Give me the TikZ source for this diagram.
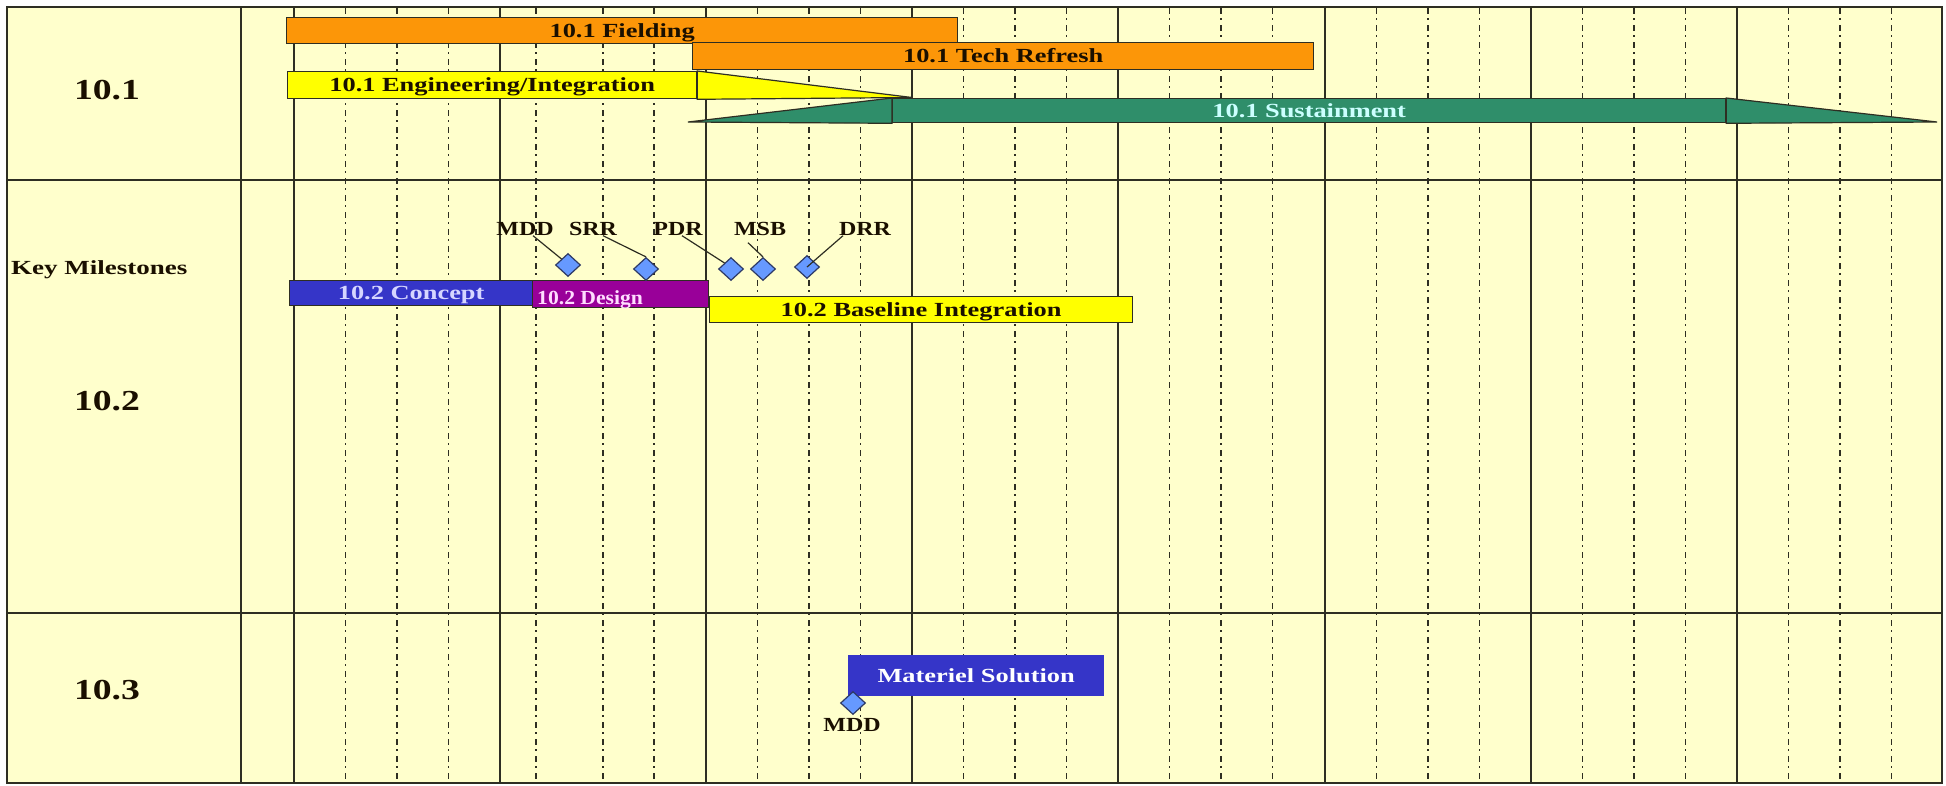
\documentclass[tikz,border=0pt]{standalone}
\usepackage{graphicx}
\usepackage{fontspec}
\setmainfont{Liberation Serif}
% horizontally widened bold serif faces used for the chart texts
\newfontfamily\barfont[FakeStretch=1.32]{Liberation Serif}
\newfontfamily\msfont[FakeStretch=1.2]{Liberation Serif}
\newfontfamily\rowfont[FakeStretch=1.3]{Liberation Serif}
\newfontfamily\keyfont[FakeStretch=1.35]{Liberation Serif}
\usetikzlibrary{shapes.geometric}

\definecolor{paper}{HTML}{FFFFCC}
\definecolor{rule}{HTML}{2E2E22}
\definecolor{barorange}{HTML}{FC9608}
\definecolor{baryellow}{HTML}{FFFF00}
\definecolor{bargreen}{HTML}{2F8E6A}
\definecolor{barblue}{HTML}{3535C8}
\definecolor{barpurple}{HTML}{990099}
\definecolor{msfill}{HTML}{6699FF}
\definecolor{msedge}{HTML}{2E3A66}
\definecolor{inkdark}{HTML}{1A0F00}
\definecolor{inklav}{HTML}{D6D6FF}
\definecolor{inkpink}{HTML}{FFDDFF}
\definecolor{inkcyan}{HTML}{CCFFFF}

\begin{document}
\begin{tikzpicture}[x=1pt,y=-1pt,
  gridline/.style={draw=rule,line width=1.8pt},
  minorline/.style={draw=rule,line width=1.6pt,dash pattern=on 6pt off 4pt on 1.5pt off 5.5pt},
  bar/.style={draw=rule,line width=1.3pt,rectangle,inner sep=0pt,anchor=north west,
    font=\barfont\bfseries\fontsize{20pt}{20pt}\selectfont,text height=13pt,text depth=0pt},
  rowlabel/.style={inner sep=0pt,font=\rowfont\bfseries\fontsize{29pt}{29pt}\selectfont,
    text=inkdark,text height=19pt,text depth=0pt},
  mslabel/.style={inner sep=0pt,font=\msfont\bfseries\fontsize{20pt}{20pt}\selectfont,
    text=inkdark,text height=13pt,text depth=0pt},
  milestone/.style={diamond,draw=msedge,fill=msfill,line width=1.2pt,inner sep=0pt,
    minimum width=25pt,minimum height=23pt},
  leader/.style={draw=rule,line width=1.2pt}]

\useasboundingbox (0,0) rectangle (1946,785);
\fill[white] (0,0) rectangle (1946,785);

% chart frame and grid
\fill[paper] (7,7) rectangle (1942,783);
\foreach \x in {345.5,397,448.5,536,603,654,757.5,809,860.5,963.5,1015,1066.5,
                1169.5,1221,1272.5,1376.5,1428,1479.5,1582.5,1634,1685.5,1788.5,1840,1891.5}
  \draw[minorline] (\x,8) -- (\x,782);
\foreach \x in {241,294,500,706,912,1118,1325,1531,1737}
  \draw[gridline] (\x,7) -- (\x,783);
\draw[gridline] (7,180) -- (1942,180);
\draw[gridline] (7,613) -- (1942,613);
\draw[gridline] (7,7) rectangle (1942,783);

% row captions
\node[rowlabel] (r1) at (107,90) {10.1};
\node[rowlabel] (r2) at (107,401) {10.2};
\node[rowlabel] (r3) at (107,690) {10.3};
\node[inner sep=0pt,anchor=west,font=\keyfont\bfseries\fontsize{20pt}{20pt}\selectfont,
      text=inkdark,text height=13pt,text depth=0pt] (key) at (11,268) {Key Milestones};

% 10.1 bars
\node[bar,fill=barorange,text=inkdark,minimum width=671pt,minimum height=26pt] (fielding) at (286,17) {10.1 Fielding};
\node[bar,fill=barorange,text=inkdark,minimum width=621pt,minimum height=27pt] (techref) at (692,42) {10.1 Tech Refresh};
\node[bar,fill=baryellow,text=inkdark,minimum width=409pt,minimum height=27pt] (eng) at (287,71) {10.1 Engineering/Integration};
\coordinate (engtip) at (912,97.5);
\draw[draw=rule,line width=1.2pt,fill=baryellow] (eng.north east) -- (engtip) -- (eng.south east) -- cycle;

\node[bar,fill=bargreen,text=inkcyan,minimum width=833pt,minimum height=24pt] (sust) at (892,98) {10.1 Sustainment};
\coordinate (sustL) at (688,122);
\coordinate (sustR) at (1937,122);
\draw[draw=rule,line width=1.2pt,fill=bargreen] (sustL) -- (sust.north west) -- (sust.south west) -- cycle;
\draw[draw=rule,line width=1.2pt,fill=bargreen] (sustR) -- (sust.north east) -- (sust.south east) -- cycle;

% 10.2 bars
\node[bar,fill=barblue,text=inklav,minimum width=243pt,minimum height=25pt] (concept) at (289,280) {10.2 Concept};
\node[bar,fill=barpurple,minimum width=176pt,minimum height=27pt] (design) at (532,280) {};
\node[anchor=west,inner sep=0pt,font=\barfont\bfseries\fontsize{20pt}{20pt}\selectfont,
      text=inkpink,text height=13pt,text depth=0pt] (designtxt) at ([xshift=5pt,yshift=-4pt]design.west)
      {\scalebox{0.82}[1]{10.2 Design}};
\node[bar,fill=baryellow,text=inkdark,minimum width=423pt,minimum height=26pt] (baseline) at (709,296) {10.2 Baseline Integration};

% key milestones
\node[milestone] (mdd) at (568,265) {};
\node[milestone] (srr) at (646,269) {};
\node[milestone] (pdr) at (731,269) {};
\node[milestone] (msb) at (763,269) {};
\node[milestone] (drr) at (807,267) {};

\node[mslabel] (mddlbl) at (525,229) {MDD};
\node[mslabel] (srrlbl) at (593,229) {SRR};
\node[mslabel] (pdrlbl) at (678,229) {PDR};
\node[mslabel] (msblbl) at (760,229) {MSB};
\node[mslabel] (drrlbl) at (865,229) {DRR};

\draw[leader] ([xshift=8pt]mddlbl.south) -- (mdd.north west);
\draw[leader] ([xshift=10pt]srrlbl.south) -- (srr.north);
\draw[leader] ([xshift=4pt]pdrlbl.south) -- (pdr.north west);
\draw[leader] ([xshift=-12pt,yshift=-7pt]msblbl.south) -- (msb.north);
\draw[leader] ([xshift=-22pt]drrlbl.south) -- (drr.center);

% 10.3
\node[bar,draw=barblue,fill=barblue,text=white,minimum width=255pt,minimum height=40pt] (materiel) at (848,655) {Materiel Solution};
\node[milestone] (mdd3) at (853,703) {};
\node[mslabel] (mdd3lbl) at (852,725) {MDD};

\end{tikzpicture}
\end{document}
